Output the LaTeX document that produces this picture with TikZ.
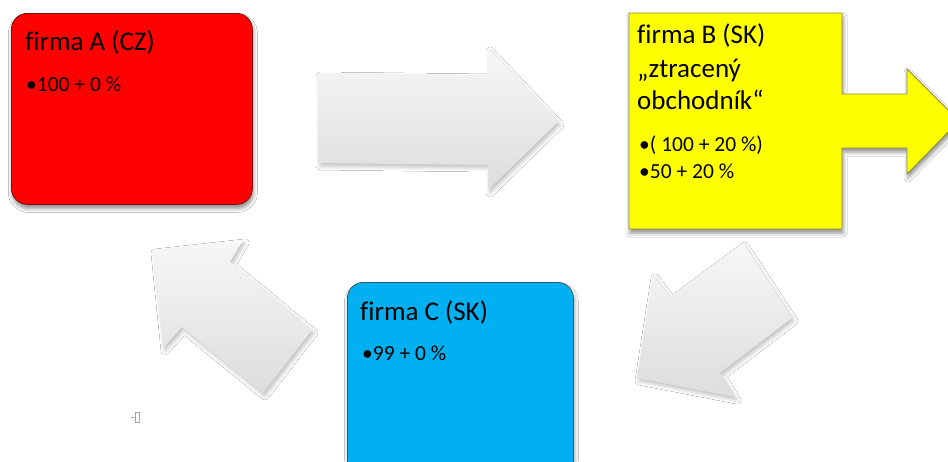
\documentclass[tikz,border=0pt]{standalone}
\usepackage{fontspec}
\setmainfont{Carlito}[Ligatures=NoCommon]
\usetikzlibrary{shadows.blur}

\definecolor{boxred}{HTML}{FF0000}
\definecolor{boxredline}{HTML}{7A1010}
\definecolor{boxyellow}{HTML}{FFFF00}
\definecolor{boxyellowline}{HTML}{8C8C3A}
\definecolor{boxblue}{HTML}{00B0F0}
\definecolor{boxblueline}{HTML}{2E5A6E}
\definecolor{flowtop}{HTML}{F7F7F7}
\definecolor{flowbottom}{HTML}{DDDDDD}

\tikzset{
  firmbox/.style={anchor=north west, inner sep=0pt, line width=0.8pt,
    blur shadow={shadow xshift=1pt, shadow yshift=-4pt,
                 shadow blur radius=4pt, shadow opacity=45}},
  flowarrow/.style={top color=flowtop, bottom color=flowbottom, draw=none,
    blur shadow={shadow xshift=2pt, shadow yshift=-3pt,
                 shadow blur radius=4pt, shadow opacity=25}},
  headline/.style={anchor=base west, inner sep=0pt,
    font=\fontsize{27}{33}\selectfont},
  itemline/.style={anchor=base west, inner sep=0pt,
    font=\fontsize{21.5}{27}\selectfont}
}

\begin{document}
\begin{tikzpicture}[x=1pt,y=-1pt]
\useasboundingbox (0,0) rectangle (948,461);
\clip (0,0) rectangle (948,461);
\fill[white] (0,0) rectangle (948,461);

% grey flow arrows between the firms
\path[flowarrow] (318,73) -- (488,75) -- (488,48) -- (558,122)
  -- (488,190) -- (488,165) -- (318,163) -- cycle;
\path[flowarrow] (743,243) -- (792,318) -- (720,373) -- (735,397)
  -- (637,378) -- (653,275) -- (670,297) -- cycle;
\path[flowarrow] (153,250) -- (243,240) -- (230,262) -- (312,330)
  -- (263,393) -- (182,327) -- (163,348) -- cycle;

% firm A
\node[firmbox, fill=boxred, draw=boxredline, rounded corners=16pt,
  minimum width=241pt, minimum height=191pt] (firmaA) at (11,13) {};
\node[headline] (titleA) at (25,50) {firma A (CZ)};
\node[itemline] (itemA) at (26,91) {•100 + 0 \%};

% firm B with its outgoing arrow, drawn as one outline
\path[fill=boxyellow, draw=boxyellowline, line width=0.8pt,
  blur shadow={shadow xshift=1pt, shadow yshift=-4pt,
               shadow blur radius=4pt, shadow opacity=45}]
  (629,13) -- (842,13) -- (842,94) -- (907,94) -- (907,69) -- (959,121)
  -- (907,174) -- (907,148) -- (842,148) -- (842,229) -- (629,229) -- cycle;
\coordinate (firmaB) at (629,13);
\node[headline] (titleB1) at (637,43) {firma B (SK)};
\node[headline] (titleB2) at (637,77) {„ztracený};
\node[headline] (titleB3) at (637,109) {obchodník“};
\node[itemline] (itemB1) at (639,151) {•( 100 + 20 \%)};
\node[itemline] (itemB2) at (639,178) {•50 + 20 \%};

% firm C
\node[firmbox, fill=boxblue, draw=boxblueline, rounded corners=16pt,
  minimum width=226pt, minimum height=215pt] (firmaC) at (347,282) {};
\node[headline] (titleC) at (360,320) {firma C (SK)};
\node[itemline] (itemC) at (362,360) {•99 + 0 \%};

% small handle mark
\draw[gray!70, line width=0.8pt] (135,412) rectangle (139,422);
\draw[gray!70, line width=0.8pt] (131,417) -- (135,417);
\end{tikzpicture}
\end{document}
